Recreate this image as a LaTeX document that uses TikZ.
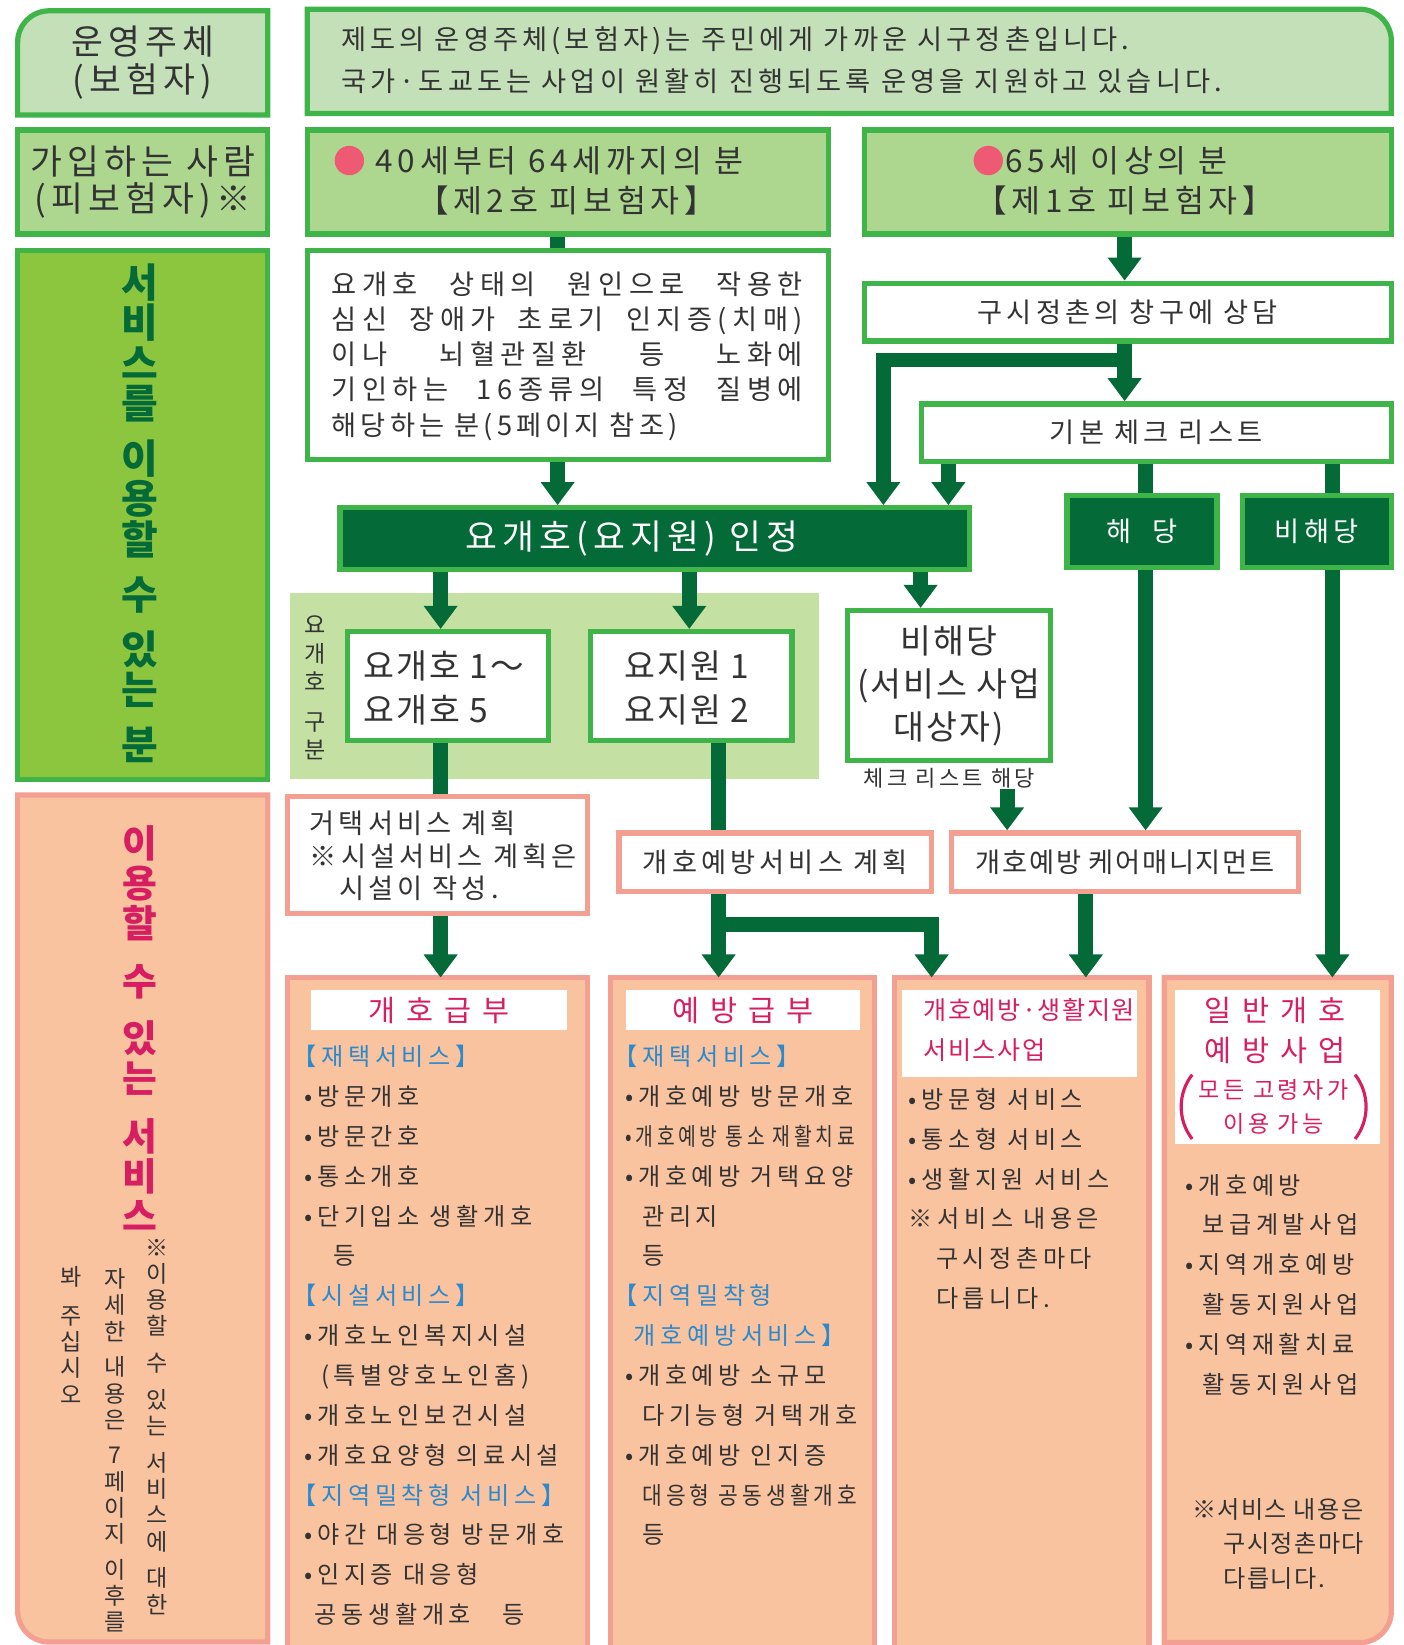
\documentclass[tikz,border=0pt]{standalone}
\usepackage{fontspec}
\setmainfont{Noto Sans CJK KR}[LetterSpace=15]
\newfontfamily\nrm{Noto Sans CJK KR}[LetterSpace=6]
\newfontfamily\lst{Noto Sans CJK KR}[LetterSpace=19]
\newfontfamily\wde{Noto Sans CJK KR}[LetterSpace=20]
\usetikzlibrary{arrows.meta}

\definecolor{bgreen}{RGB}{62,180,73}
\definecolor{lgreen}{RGB}{196,224,185}
\definecolor{mgreen}{RGB}{173,214,143}
\definecolor{ygreen}{RGB}{140,198,63}
\definecolor{dgreen}{RGB}{4,106,56}
\definecolor{kgreen}{RGB}{197,224,163}
\definecolor{peach}{RGB}{249,195,160}
\definecolor{salmon}{RGB}{243,160,146}
\definecolor{tpink}{RGB}{216,30,98}
\definecolor{tblue}{RGB}{44,137,204}
\definecolor{tgray}{RGB}{51,51,51}
\definecolor{dotred}{RGB}{238,90,116}

\newcommand\fsz[2]{\fontsize{#1}{#2}\selectfont}
\newcommand\lbr{\hspace*{-11pt}【}

\pgfdeclarelayer{bg}
\pgfsetlayers{bg,main}

\tikzset{
  gbox/.style={draw=bgreen, line width=5pt, inner sep=0pt, text=tgray},
  pbox/.style={draw=salmon, line width=5pt, fill=white, inner sep=0pt, text=tgray},
  txt/.style={inner sep=0pt, text=tgray},
  vtxt/.style={inner sep=0pt, align=center, anchor=north},
  title/.style={fill=white, inner sep=0pt, text=tpink},
  arr/.style={dgreen, line width=14pt, -{Triangle[width=31pt,length=22pt]}},
  bar/.style={dgreen, line width=14pt},
}

\begin{document}
\begin{tikzpicture}[x=1pt, y=-1pt]
\useasboundingbox (0,0) rectangle (1338,1568);

% top rows
\node[txt, minimum width=238pt, minimum height=99pt, align=center, font=\fsz{33}{36}] (op) at (136,60) {운영주체\\(보험자)};
\node[minimum width=1033pt, minimum height=99pt, inner sep=0pt] (opdesc) at (809.5,58.5) {};
\node[txt, anchor=west, align=left, font=\fsz{26}{40}] (opdtxt) at (325,57)
  {제도의 운영주체(보험자)는 주민에게 가까운 시구정촌입니다.\\국가·도교도는 사업이 원활히 진행되도록 운영을 지원하고 있습니다.};

\node[gbox, fill=mgreen, minimum width=238pt, minimum height=99pt, align=center, font=\fsz{33}{36}] (member) at (136,173.5) {가입하는 사람\\(피보험자)※};
\node[gbox, fill=mgreen, minimum width=497pt, minimum height=99pt] (age40) at (541.5,173.5) {};
\node[circle, fill=dotred, minimum size=28pt, inner sep=0pt] (dot40) at (333,153) {};
\node[txt, anchor=west, font=\fsz{30}{36}] (age40a) at (358,153) {40세부터 64세까지의 분};
\node[txt, font=\fsz{30}{36}] (age40b) at (540,191) {【제2호 피보험자】};
\node[gbox, fill=mgreen, minimum width=502pt, minimum height=99pt] (age65) at (1075,173.5) {};
\node[circle, fill=dotred, minimum size=28pt, inner sep=0pt] (dot65) at (942,153) {};
\node[txt, anchor=west, font=\fsz{30}{36}] (age65a) at (958,153) {65세 이상의 분};
\node[txt, font=\fsz{30}{36}] (age65b) at (1072,191) {【제1호 피보험자】};

% left column
\node[gbox, fill=ygreen, minimum width=238pt, minimum height=504pt] (user) at (136,491) {};
\node[vtxt, text=dgreen, font=\bfseries\fsz{38}{38.5}] (usertxt) at (133,251)
  {서\\비\\스\\를\\[14pt]이\\용\\할\\[14pt]수\\[14pt]있\\는\\[14pt]분};
\node[minimum width=238pt, minimum height=807pt, inner sep=0pt] (svc) at (136,1161.5) {};
\node[vtxt, text=tpink, font=\bfseries\fsz{36}{38}] (svctxt) at (133,787)
  {이\\용\\할\\[17pt]수\\[17pt]있\\는\\[17pt]서\\비\\스};
\node[vtxt, text=tgray, font=\nrm\fsz{22}{25}] (note1) at (150,1181)
  {※\\이\\용\\할\\[10pt]수\\[10pt]있\\는\\[10pt]서\\비\\스\\에\\[10pt]대\\한};
\node[vtxt, text=tgray, font=\nrm\fsz{22}{25}] (note2) at (110,1209)
  {자\\세\\한\\[9pt]내\\용\\은\\[9pt]7\\페\\이\\지\\[9pt]이\\후\\를};
\node[vtxt, text=tgray, font=\nrm\fsz{22}{25}] (note3) at (68,1207)
  {봐\\[12pt]주\\십\\시\\오};

% flow
\node[gbox, fill=white, minimum width=497pt, minimum height=199pt] (cause) at (541.5,338.5) {};
\node[txt, anchor=north west, align=left, font=\wde\fsz{26}{33.5}] (causetxt) at (316,259)
  {\makebox[449pt][s]{요개호 상태의 원인으로 작용한}\\
   \makebox[449pt][s]{심신 장애가 초로기 인지증(치매)}\\
   \makebox[449pt][s]{이나 뇌혈관질환 등 노화에}\\
   \makebox[449pt][s]{기인하는 16종류의 특정 질병에}\\
   {\rmfamily 해당하는 분(5페이지 참조)}};
\node[gbox, fill=white, minimum width=502pt, minimum height=55pt, font=\fsz{26}{30}] (consult) at (1075,297.5) {구시정촌의 창구에 상담};
\node[gbox, fill=white, minimum width=448pt, minimum height=55pt, font=\fsz{26}{30}] (check) at (1102,412.5) {기본 체크 리스트};
\node[gbox, fill=dgreen, text=white, minimum width=600pt, minimum height=59pt, font=\fsz{33}{36}] (cert) at (624,513.5) {요개호(요지원) 인정\hspace*{44pt}};
\node[gbox, fill=dgreen, text=white, minimum width=143pt, minimum height=69pt, font=\fsz{26}{30}] (hit) at (1088.5,506.5) {해\hspace{20pt}당};
\node[gbox, fill=dgreen, text=white, minimum width=142pt, minimum height=69pt, font=\fsz{26}{30}] (nohit) at (1255,506.5) {비해당};

\node[fill=kgreen, minimum width=505pt, minimum height=178pt, inner sep=0pt] (kubun) at (528.5,654) {};
\node[vtxt, text=tgray, font=\nrm\fsz{22}{27}] (kubuntxt) at (300,587) {요\\개\\호\\[11pt]구\\분};
\node[gbox, fill=white, minimum width=192pt, minimum height=104pt] (kaigo15) at (427,654) {};
\node[txt, anchor=west, align=left, font=\nrm\fsz{32}{42}] (kaigo15t) at (346,656) {요개호 1〜\\요개호 5};
\node[gbox, fill=white, minimum width=192pt, minimum height=104pt] (shien12) at (659,654) {};
\node[txt, anchor=west, align=left, font=\nrm\fsz{32}{42}] (shien12t) at (595,656) {요지원 1\\요지원 2};
\node[gbox, fill=white, minimum width=193pt, minimum height=143pt, align=center, font=\nrm\fsz{32}{41}] (jigyo) at (904.5,653.5) {비해당\\(서비스 사업\\대상자)};
\node[txt, font=\fsz{21}{24}] (chklabel) at (905,742) {체크 리스트 해당};

\node[pbox, minimum width=286pt, minimum height=112pt] (kyotaku) at (417,815) {};
\node[txt, anchor=west, align=left, font=\fsz{26}{31}] (kyotakut) at (295,816)
  {거택서비스 계획\\※시설서비스 계획은\\\hspace*{28pt}시설이 작성.};
\node[pbox, minimum width=298pt, minimum height=56pt, font=\fsz{26}{30}] (prevplan) at (739,822) {개호예방서비스 계획};
\node[pbox, minimum width=331pt, minimum height=56pt, font=\nrm\fsz{26}{30}] (caremgmt) at (1072.5,822) {개호예방 케어매니지먼트};

% bottom boxes
\node[fill=peach, minimum width=286pt, minimum height=636pt, inner sep=0pt] (kyufu) at (417,1250) {};
\node[fill=peach, minimum width=251pt, minimum height=636pt, inner sep=0pt] (yobo) at (707.5,1250) {};
\node[fill=peach, minimum width=242pt, minimum height=636pt, inner sep=0pt] (sogo) at (974,1250) {};
\node[minimum width=216pt, minimum height=633.5pt, inner sep=0pt] (ippan) at (1218,1248.75) {};
\draw[salmon, line width=5pt] (kyufu.south west) -- (kyufu.north west) -- (kyufu.north east) -- (kyufu.south east);
\draw[salmon, line width=5pt] (yobo.south west) -- (yobo.north west) -- (yobo.north east) -- (yobo.south east);
\draw[salmon, line width=5pt] (sogo.south west) -- (sogo.north west) -- (sogo.north east) -- (sogo.south east);

\begin{pgfonlayer}{bg}
\filldraw[draw=bgreen, fill=lgreen, line width=5pt] (op.west) [rounded corners=30pt] -- (op.north west) -- (op.north) [sharp corners] -- (op.north east) -- (op.south east) -- (op.south west) -- cycle;
\filldraw[draw=bgreen, fill=lgreen, line width=5pt] (opdesc.east) [rounded corners=30pt] -- (opdesc.north east) -- (opdesc.north) [sharp corners] -- (opdesc.north west) -- (opdesc.south west) -- (opdesc.south east) -- cycle;
\filldraw[draw=salmon, fill=peach, line width=5pt] (svc.west) [rounded corners=30pt] -- (svc.south west) -- (svc.south) [sharp corners] -- (svc.south east) -- (svc.north east) -- (svc.north west) -- cycle;
\filldraw[draw=salmon, fill=peach, line width=5pt] (ippan.east) [rounded corners=30pt] -- (ippan.south east) -- (ippan.south) [sharp corners] -- (ippan.south west) -- (ippan.north west) -- (ippan.north east) -- cycle;
\end{pgfonlayer}

\node[title, minimum width=244pt, minimum height=38pt, font=\fsz{28}{32}] (kyufut) at (418,963) {개 호 급 부};
\node[title, minimum width=223pt, minimum height=38pt, font=\fsz{28}{32}] (yobot) at (708.5,963) {예 방 급 부};
\node[title, minimum width=224pt, minimum height=83pt] (sogot) at (972,985.5) {};
\node[inner sep=0pt, text=tpink, anchor=west, align=left, font=\nrm\fsz{24}{38}] (sogott) at (880,982) {개호예방·생활지원\\서비스사업};
\node[title, minimum width=195pt, minimum height=146pt] (ippant) at (1217.5,1017) {};
\node[inner sep=0pt, text=tpink, align=center, font=\fsz{28}{38}] (ippant1) at (1215,982) {일 반 개 호\\예 방 사 업};
\node[inner sep=0pt, text=tpink, align=center, font=\fsz{22}{33}] (ippant2) at (1214,1055) {모든 고령자가\\이용 가능};
\draw[tpink, line width=3pt] ([xshift=-6pt,yshift=4pt]ippant2.north west) .. controls +(-14pt,-18pt) and +(-14pt,18pt) .. ([xshift=-6pt,yshift=-4pt]ippant2.south west);
\draw[tpink, line width=3pt] ([xshift=6pt,yshift=4pt]ippant2.north east) .. controls +(14pt,-18pt) and +(14pt,18pt) .. ([xshift=6pt,yshift=-4pt]ippant2.south east);

\node[txt, anchor=north west, align=left, font=\lst\fsz{23}{38}] (kyufulist) at (290,996)
  {\textcolor{tblue}{\lbr 재택서비스】}\\
   •방문개호\\
   •방문간호\\
   •통소개호\\
   •단기입소 생활개호\\
   \hspace*{28pt}등\\
   \textcolor{tblue}{\lbr 시설서비스】}\\
   •개호노인복지시설\\
   \hspace*{16pt}(특별양호노인홈)\\
   •개호노인보건시설\\
   •개호요양형 의료시설\\
   \textcolor{tblue}{\lbr 지역밀착형 서비스】}\\
   •야간 대응형 방문개호\\
   •인지증 대응형\\
   \hspace*{10pt}공동생활개호\hspace{30pt}등};
\node[txt, anchor=north west, align=left, font=\lst\fsz{23}{38}] (yobolist) at (596,996)
  {\textcolor{tblue}{\lbr 재택서비스】}\\
   •개호예방 방문개호\\
   \scalebox{0.8}[1]{•개호예방 통소 재활치료}\\
   •개호예방 거택요양\\
   \hspace*{16pt}관리지\\
   \hspace*{16pt}등\\
   \textcolor{tblue}{\lbr 지역밀착형}\\
   \hspace*{8pt}\textcolor{tblue}{개호예방서비스】}\\
   •개호예방 소규모\\
   \hspace*{16pt}다기능형 거택개호\\
   •개호예방 인지증\\
   \hspace*{16pt}\scalebox{0.89}[1]{대응형 공동생활개호}\\
   \hspace*{16pt}등};
\node[txt, anchor=north west, align=left, font=\lst\fsz{23}{38}] (sogolist) at (866,1037)
  {•방문형 서비스\\
   •통소형 서비스\\
   •생활지원 서비스\\
   ※서비스 내용은\\
   \hspace*{26pt}구시정촌마다\\
   \hspace*{26pt}다릅니다.};
\node[txt, anchor=north west, align=left, font=\lst\fsz{23}{38}] (ippanlist) at (1130,1119)
  {•개호예방\\
   \hspace*{16pt}보급계발사업\\
   •지역개호예방\\
   \hspace*{16pt}활동지원사업\\
   •지역재활치료\\
   \hspace*{16pt}활동지원사업};
\node[txt, anchor=north west, align=left, font=\nrm\fsz{23}{33}] (ippannote) at (1136,1428)
  {※서비스 내용은\\
   \hspace*{30pt}구시정촌마다\\
   \hspace*{30pt}다릅니다.};

% connectors
\coordinate (brk) at (842,343);
\coordinate (brp) at (888,881);
\draw[bar] ([xshift=-10pt]age40.south) -- ([xshift=-10pt]cause.north);
\draw[arr] ([xshift=-10pt]cause.south) -- ([xshift=-10pt]cause.south |- cert.north);
\draw[arr] ([xshift=-3pt]age65.south) -- ([xshift=-3pt]consult.north);
\draw[arr] ([xshift=-3pt]consult.south) -- ([xshift=-3pt]consult.south |- check.north);
\draw[arr] ([xshift=-3pt]consult.south |- brk) -| (brk |- cert.north);
\draw[arr] ([xshift=-198pt]check.south) -- ([xshift=-198pt]check.south |- cert.north);
\draw[bar] ([xshift=3.5pt]hit.north |- check.south) -- ([xshift=3.5pt]hit.north);
\draw[bar] ([xshift=15pt]nohit.north |- check.south) -- ([xshift=15pt]nohit.north);
\draw[arr] ([xshift=3.5pt]hit.south) -- ([xshift=3.5pt]hit.south |- caremgmt.north);
\draw[arr] ([xshift=15pt]nohit.south) -- ([xshift=15pt]nohit.south |- ippan.north);
\draw[arr] ([xshift=-7pt]kaigo15.north |- cert.south) -- ([xshift=-7pt]kaigo15.north);
\draw[arr] ([xshift=-2pt]shien12.north |- cert.south) -- ([xshift=-2pt]shien12.north);
\draw[arr] ([xshift=-27pt]jigyo.north |- cert.south) -- ([xshift=-27pt]jigyo.north);
\draw[bar] ([xshift=-7pt]kaigo15.south) -- ([xshift=-7pt]kaigo15.south |- kyotaku.north);
\draw[bar] ([xshift=26pt]shien12.south) -- ([xshift=26pt]shien12.south |- prevplan.north);
\draw[arr] ([xshift=55pt]chklabel.south) -- ([xshift=55pt]chklabel.south |- caremgmt.north);
\draw[arr] ([xshift=3pt]kyotaku.south) -- ([xshift=3pt]kyotaku.south |- kyufu.north);
\draw[arr] ([xshift=-54pt]prevplan.south) -- ([xshift=-54pt]prevplan.south |- yobo.north);
\draw[arr] ([xshift=-54pt]prevplan.south |- brp) -| (brp |- sogo.north);
\draw[arr] ([xshift=-37.5pt]caremgmt.south) -- ([xshift=-37.5pt]caremgmt.south |- sogo.north);
\end{tikzpicture}
\end{document}
